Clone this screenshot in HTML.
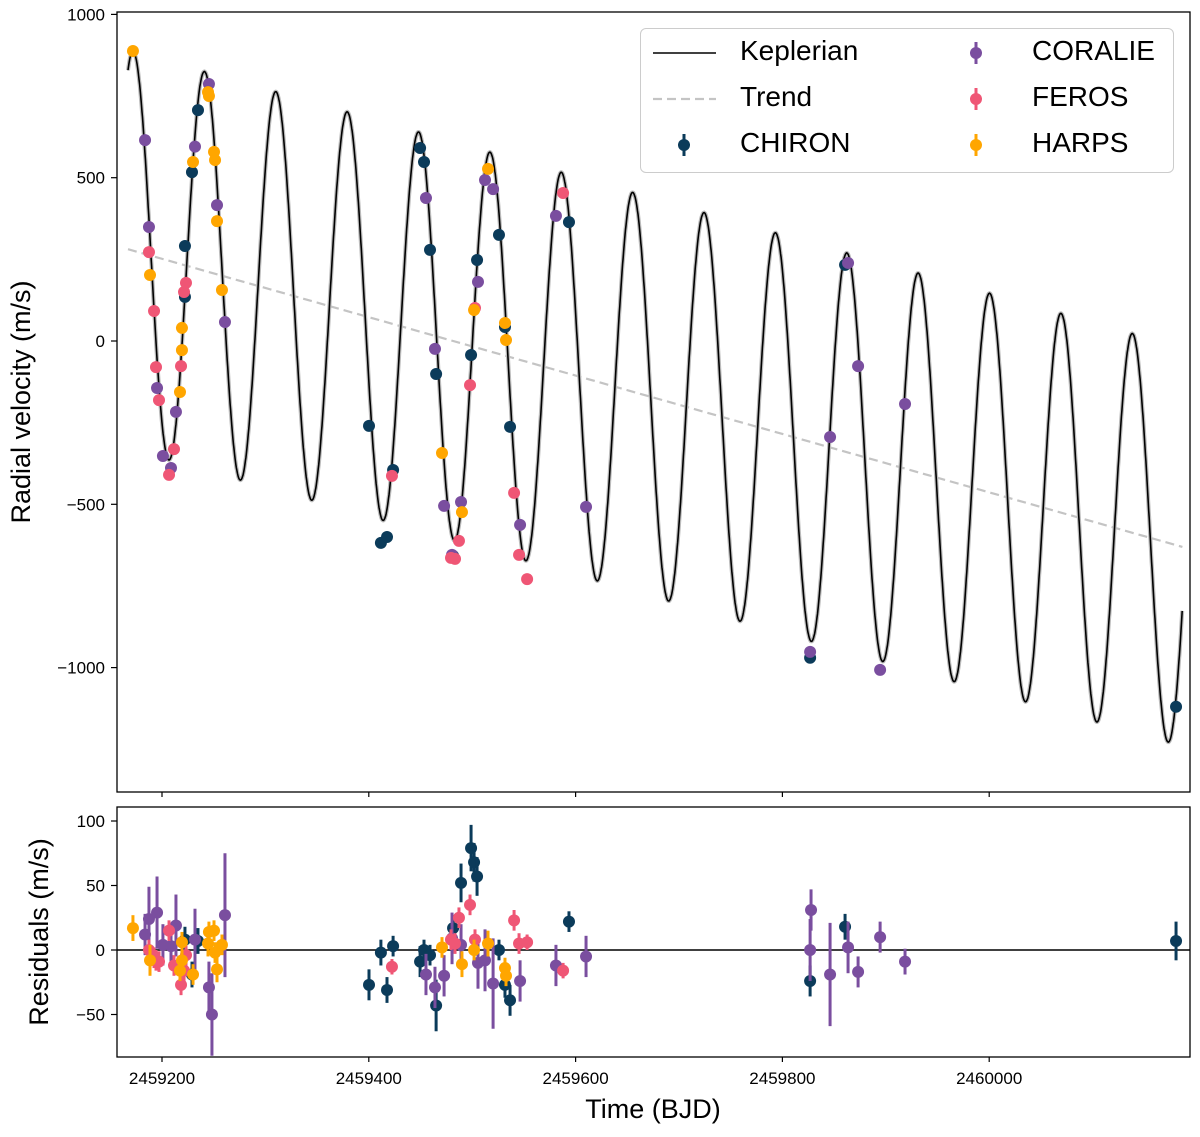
<!DOCTYPE html>
<html><head><meta charset="utf-8"><style>
body{margin:0;background:#fff}
svg{display:block;font-family:"Liberation Sans","DejaVu Sans",sans-serif}
</style></head><body>
<svg id="chart" width="1200" height="1137" viewBox="0 0 1200 1137">
<rect x="0" y="0" width="1200" height="1137" fill="#fff"/>
<g id="topPanel"></g>
<g id="botPanel"></g>
</svg>
<script>
// ---- data ----
const chironT=[2459222.2,2459222.2,2459229.0,2459234.8,2459400.2,2459411.7,2459417.6,2459423.5,2459449.6,2459453.4,2459459.2,2459465.1,2459481.5,2459498.9,2459504.7,2459525.9,2459531.7,2459536.6,2459593.6,2459826.8,2459860.6,2460180.7];
const chironV=[291,135,517,707,-260,-618,-600,-395,591,548,279,-101,-658,-43,248,325,43,-263,364,-970,233,-1120];
const coralieT=[2459183.6,2459187.4,2459195.2,2459200.9,2459208.7,2459213.5,2459231.9,2459245.4,2459253.2,2459260.9,2459455.3,2459464.0,2459472.8,2459480.5,2459489.2,2459505.6,2459512.4,2459520.2,2459546.3,2459581.0,2459610.1,2459826.8,2459846.1,2459863.5,2459873.2,2459894.5,2459918.6];
const coralieV=[615,349,-144,-352,-389,-217,595,787,416,58,438,-24,-505,-655,-493,181,493,465,-563,383,-508,-952,-294,239,-77,-1007,-193];
const ferosT=[2459187.4,2459192.3,2459194.2,2459197.1,2459206.8,2459211.6,2459218.4,2459221.3,2459223.2,2459422.4,2459479.5,2459483.4,2459487.2,2459497.9,2459502.7,2459540.5,2459545.3,2459553.1,2459587.9];
const ferosV=[272,92,-80,-181,-410,-331,-77,150,178,-413,-664,-667,-612,-135,101,-465,-655,-729,453];
const harpsT=[2459171.9,2459188.4,2459219.3,2459219.3,2459217.4,2459230.0,2459244.5,2459245.4,2459250.3,2459251.3,2459253.2,2459258.0,2459470.8,2459490.1,2459501.8,2459515.3,2459531.7,2459532.7];
const harpsV=[888,202,40,-28,-156,548,762,750,579,554,367,156,-343,-524,95,527,55,3];
// residuals
const resChT=[2459222.2,2459234.8,2459229.0,2459400.2,2459411.7,2459417.6,2459423.5,2459449.6,2459453.4,2459459.2,2459465.1,2459481.5,2459489.2,2459498.9,2459501.8,2459504.7,2459525.9,2459531.7,2459536.6,2459593.6,2459826.8,2459860.6,2460180.7];
const resChR=[8,7,-19,-27,-2,-31,3,-9,0,-4,-43,17,52,79,68,57,0,-27,-39,22,-24,18,7];
const resChE=[10,10,10,12,10,10,8,12,8,8,20,8,15,18,15,15,8,10,12,8,12,10,15];
const resCoT=[2459183.6,2459187.4,2459195.2,2459200.9,2459208.7,2459213.5,2459231.9,2459245.4,2459248.3,2459260.9,2459455.3,2459464.0,2459472.8,2459480.5,2459489.2,2459505.6,2459512.4,2459520.2,2459546.3,2459581.0,2459610.1,2459826.8,2459827.7,2459846.1,2459863.5,2459873.2,2459894.5,2459918.6];
const resCoR=[12,24,29,4,3,19,8,-29,-50,27,-19,-29,-20,9,4,-10,-8,-26,-24,-12,-5,0,31,-19,2,-17,10,-9];
const resCoE=[16,25,28,16,16,24,24,20,32,48,16,16,16,20,16,20,24,35,16,16,16,24,16,40,20,12,12,10];
const resFeT=[2459187.4,2459192.3,2459194.2,2459197.1,2459206.8,2459211.6,2459218.4,2459221.3,2459223.2,2459422.4,2459479.5,2459483.4,2459487.2,2459497.9,2459502.7,2459540.5,2459545.3,2459553.1,2459587.9];
const resFeR=[0,-6,-8,-9,15,-12,-27,-16,-4,-13,8,5,25,35,8,23,5,6,-16];
const resFeE=[8,8,8,8,8,8,8,8,8,6,8,8,8,8,8,8,8,6,6];
const resHaT=[2459171.9,2459188.4,2459219.3,2459219.3,2459217.4,2459230.0,2459244.5,2459245.4,2459250.3,2459251.3,2459253.2,2459258.0,2459470.8,2459490.1,2459501.8,2459515.3,2459531.7,2459532.7];
const resHaR=[17,-8,6,-8,-16,-19,5,14,15,-2,-15,4,2,-11,0,5,-14,-20];
const resHaE=[10,12,8,8,8,8,10,8,8,8,10,8,8,10,8,10,8,8];
const xTicks=[2459200,2459400,2459600,2459800,2460000];
const yTicksTop=[1000,500,0,-500,-1000];
const yTicksBot=[100,50,0,-50];
// model params
const P=69.03,K=610,tPeak=2459172.1,trendA=282,trendT0=2459166.2,trendSlope=-0.894;
const modelT0=2459167.1,modelT1=2460186.8;

// ---- axes ----
const NS='http://www.w3.org/2000/svg';
const X=t=>162+(t-2459200)*1.034;
const YT=v=>341-v*0.3266;
const YB=r=>950-r*1.29;
function mk(tag,attrs,parent,text){const e=document.createElementNS(NS,tag);for(const k in attrs)e.setAttribute(k,attrs[k]);if(text!==undefined)e.textContent=text;parent.appendChild(e);return e;}
const topG=document.getElementById('topPanel'),botG=document.getElementById('botPanel');
const COL={CHIRON:'#0b3b5a',CORALIE:'#7a4e9f',FEROS:'#ef5675',HARPS:'#ffa600'};
const fmt=v=>String(v).replace('-','\u2212');

const defs=mk('defs',{},topG);
const cp=mk('clipPath',{id:'c1'},defs);mk('rect',{x:117,y:12,width:1073,height:780},cp);

// trend
let d='';
for(let i=0;i<=1;i++){const t=i?modelT1:modelT0;const v=trendA+trendSlope*(t-trendT0);d+=(i?'L':'M')+X(t).toFixed(1)+','+YT(v).toFixed(1);}
const tr=mk('path',{d:d,stroke:'#c4c4c4','stroke-width':2.2,'stroke-dasharray':'9,5',fill:'none','clip-path':'url(#c1)'},topG);


// keplerian
let d2='';
for(let t=modelT0;t<=modelT1;t+=0.4){const v=K*Math.cos(2*Math.PI*(t-tPeak)/P)+trendA+trendSlope*(t-trendT0);d2+=(d2?'L':'M')+X(t).toFixed(1)+','+YT(v).toFixed(1);}
const band=mk('path',{d:d2,stroke:'#bbb','stroke-width':4,fill:'none','clip-path':'url(#c1)'},topG);


const kp=mk('path',{d:d2,stroke:'#000','stroke-width':1.6,fill:'none','clip-path':'url(#c1)'},topG);



function pts(T,V,col,name,Y,E,par){
 for(let i=0;i<T.length;i++){
  const g=mk('g',{},par);
  
  
  const x=X(T[i]),y=Y(V[i]);const e=E?E[i]*1.29:3;
  mk('line',{x1:x,x2:x,y1:y-e,y2:y+e,stroke:col,'stroke-width':3},g);
  mk('circle',{cx:x,cy:y,r:6,fill:col},g);
 }
}
pts(chironT,chironV,COL.CHIRON,'chiron',YT,null,topG);
pts(coralieT,coralieV,COL.CORALIE,'coralie',YT,null,topG);
pts(ferosT,ferosV,COL.FEROS,'feros',YT,null,topG);
pts(harpsT,harpsV,COL.HARPS,'harps',YT,null,topG);

const zl=mk('line',{x1:117,x2:1190,y1:YB(0),y2:YB(0),stroke:'#000','stroke-width':1.6},botG);


pts(resChT,resChR,COL.CHIRON,'chiron-residual',YB,resChE,botG);
pts(resCoT,resCoR,COL.CORALIE,'coralie-residual',YB,resCoE,botG);
pts(resFeT,resFeR,COL.FEROS,'feros-residual',YB,resFeE,botG);
pts(resHaT,resHaR,COL.HARPS,'harps-residual',YB,resHaE,botG);

const f1=mk('rect',{x:117,y:12,width:1073,height:780,fill:'none',stroke:'#000','stroke-width':1.3},topG);


const f2=mk('rect',{x:117,y:807,width:1073,height:250,fill:'none',stroke:'#000','stroke-width':1.3},botG);



xTicks.forEach(t=>{const x=X(t);
 mk('line',{x1:x,x2:x,y1:792,y2:797,stroke:'#000','stroke-width':1.2},topG);
 mk('line',{x1:x,x2:x,y1:1057,y2:1062,stroke:'#000','stroke-width':1.2},botG);
 const l=mk('text',{x:x,y:1084,'font-size':17,'text-anchor':'middle',fill:'#000'},botG,String(t));
 
 });
yTicksTop.forEach(v=>{const y=YT(v);
 mk('line',{x1:111,x2:117,y1:y,y2:y,stroke:'#000','stroke-width':1.2},topG);
 const l=mk('text',{x:105,y:y+6,'font-size':17,'text-anchor':'end',fill:'#000'},topG,fmt(v));
 
 });
yTicksBot.forEach(v=>{const y=YB(v);
 mk('line',{x1:111,x2:117,y1:y,y2:y,stroke:'#000','stroke-width':1.2},botG);
 const l=mk('text',{x:105,y:y+6,'font-size':17,'text-anchor':'end',fill:'#000'},botG,fmt(v));
 
 });
</script>
<script>
const svgEl=document.getElementById('chart');
function T(x,y,s,txt,name,rot){const e=document.createElementNS('http://www.w3.org/2000/svg','text');e.setAttribute('x',x);e.setAttribute('y',y);e.setAttribute('font-size',s);e.setAttribute('text-anchor','middle');if(rot)e.setAttribute('transform','rotate(-90 '+x+' '+y+')');e.textContent=txt;


svgEl.appendChild(e);return e;}
T(30,402,27,'Radial velocity (m/s)','y-axis-title',true);
T(48,932,27,'Residuals (m/s)','residual-axis-title',true);
T(653,1118,27,'Time (BJD)','x-axis-title',false);
</script>
<div style="position:absolute;left:640px;top:28px;width:534px;height:145px;border:1.3px solid #ccc;border-radius:6px;background:rgba(255,255,255,0.85);box-sizing:border-box;font-family:'Liberation Sans',sans-serif;font-size:28px;color:#000">
 <svg width="534" height="145" style="position:absolute;left:0;top:0">
  <line x1="12" x2="75" y1="24" y2="24" stroke="#000" stroke-width="1.6"/>
  <line x1="12" x2="75" y1="70" y2="70" stroke="#c4c4c4" stroke-width="2.2" stroke-dasharray="9,5"/>
  <line x1="43" x2="43" y1="105" y2="127" stroke="#0b3b5a" stroke-width="3"/><circle cx="43" cy="116" r="6" fill="#0b3b5a"/>
  <line x1="335" x2="335" y1="13" y2="35" stroke="#7a4e9f" stroke-width="3"/><circle cx="335" cy="24" r="6" fill="#7a4e9f"/>
  <line x1="335" x2="335" y1="59" y2="81" stroke="#ef5675" stroke-width="3"/><circle cx="335" cy="70" r="6" fill="#ef5675"/>
  <line x1="335" x2="335" y1="105" y2="127" stroke="#ffa600" stroke-width="3"/><circle cx="335" cy="116" r="6" fill="#ffa600"/>
 </svg>
 <span style="position:absolute;left:99px;top:6px">Keplerian</span>
 <span style="position:absolute;left:99px;top:52px">Trend</span>
 <span style="position:absolute;left:99px;top:98px">CHIRON</span>
 <span style="position:absolute;left:391px;top:6px">CORALIE</span>
 <span style="position:absolute;left:391px;top:52px">FEROS</span>
 <span style="position:absolute;left:391px;top:98px">HARPS</span>
</div>
</body></html>
